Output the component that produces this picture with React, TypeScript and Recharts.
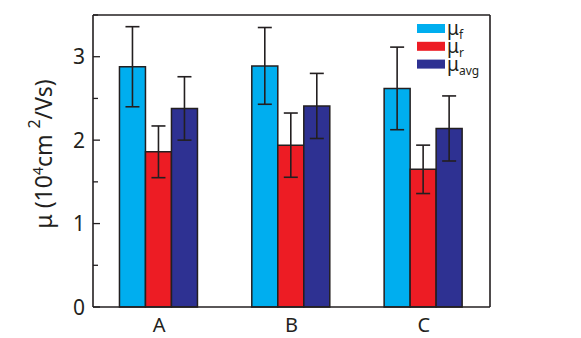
import { BarChart, Bar, XAxis, YAxis, ErrorBar, CartesianGrid } from 'recharts';

// Values
const categories = ['A', 'B', 'C'];
const muF = [2.88, 2.89, 2.62];
const muFErr = [0.48, 0.46, 0.495];
const muR = [1.86, 1.94, 1.65];
const muRErr = [0.31, 0.385, 0.29];
const muAvg = [2.38, 2.41, 2.14];
const muAvgErr = [0.38, 0.39, 0.39];
const yTicks = [0, 0.5, 1, 1.5, 2, 2.5, 3, 3.5];

const series = [
    { key: 'f', err: 'fErr', sub: 'f', color: '#00aeef' },
    { key: 'r', err: 'rErr', sub: 'r', color: '#ed1c24' },
    { key: 'avg', err: 'avgErr', sub: 'avg', color: '#2e3192' },
];

const data = categories.map((name, i) => ({
    name,
    f: muF[i],
    fErr: muFErr[i],
    r: muR[i],
    rErr: muRErr[i],
    avg: muAvg[i],
    avgErr: muAvgErr[i],
}));

const INK = '#231f20';
const FONT = '"Noto Sans", "Open Sans", sans-serif';

const YTick = (props: any) => {
    const { x, y, payload } = props;
    const major = Number.isInteger(payload.value);
    return (
        <g>
            <line x1={x} x2={x + (major ? 7 : 5)} y1={y} y2={y} stroke={INK} strokeWidth={1.3} />
            {major && (
                <text x={x - 8} y={y} dy="0.36em" textAnchor="end" fontSize={21} fill={INK} fontFamily={FONT}>
                    {payload.value}
                </text>
            )}
        </g>
    );
};

const XTick = (props: any) => {
    const { x, y, payload } = props;
    return (
        <text x={x} y={y + 25} textAnchor="middle" fontSize={20} fill={INK} fontFamily={FONT}>
            {payload.value}
        </text>
    );
};

const YLabel = () => {
    const cx = 52;
    const cy = 154;
    return (
        <text
            x={cx}
            y={cy}
            transform={`rotate(-90 ${cx} ${cy})`}
            textAnchor="middle"
            fontSize={23}
            fill={INK}
            fontFamily={FONT}
        >
            μ (10
            <tspan fontSize={14} dy={-9}>4</tspan>
            <tspan dy={9}>cm </tspan>
            <tspan fontSize={16} dy={-12}>2</tspan>
            <tspan dy={12}>/Vs)</tspan>
        </text>
    );
};

// legend drawn as svg text, one row per series
const LegendBox = () => (
    <svg width={80} height={62} style={{ position: 'absolute', left: 412, top: 16 }}>
        {series.map((s, i) => (
            <g key={s.key} transform={`translate(0 ${i * 17.8})`}>
                <rect x={5} y={8} width={28} height={9} fill={s.color} />
                <text x={35} y={19} fontSize={19} fill={INK} fontFamily={FONT}>
                    μ
                    <tspan fontSize={12} dy={4}>{s.sub}</tspan>
                </text>
            </g>
        ))}
    </svg>
);

const App = () => {
    return (
        <div style={{ position: 'absolute', left: 0, top: 0, width: 581, height: 338, background: '#fff' }}>
            <BarChart
                width={581}
                height={338}
                data={data}
                margin={{ top: 15, right: 91, bottom: 0, left: 0 }}
                barCategoryGap="20%"
                barGap={0}
            >
                {/* top and right edges of the frame */}
                <CartesianGrid
                    stroke={INK}
                    strokeWidth={1.6}
                    horizontalCoordinatesGenerator={({ offset }: any) => [offset.top]}
                    verticalCoordinatesGenerator={({ offset }: any) => [offset.left + offset.width]}
                />
                <XAxis
                    dataKey="name"
                    height={31}
                    tickSize={0}
                    tickMargin={0}
                    tickLine={false}
                    axisLine={{ stroke: INK, strokeWidth: 1.6 }}
                    tick={<XTick />}
                />
                <YAxis
                    width={93}
                    domain={[0, 3.5]}
                    ticks={yTicks}
                    interval={0}
                    tickSize={0}
                    tickMargin={0}
                    tickLine={false}
                    axisLine={{ stroke: INK, strokeWidth: 1.6 }}
                    tick={<YTick />}
                    label={<YLabel />}
                />
                {series.map((s) => (
                    <Bar
                        key={s.key}
                        dataKey={s.key}
                        fill={s.color}
                        stroke={INK}
                        strokeWidth={1.5}
                        isAnimationActive={false}
                    >
                        <ErrorBar dataKey={s.err} width={7} stroke={INK} strokeWidth={1.6} />
                    </Bar>
                ))}
            </BarChart>
            <LegendBox />
        </div>
    );
};

export default App;
